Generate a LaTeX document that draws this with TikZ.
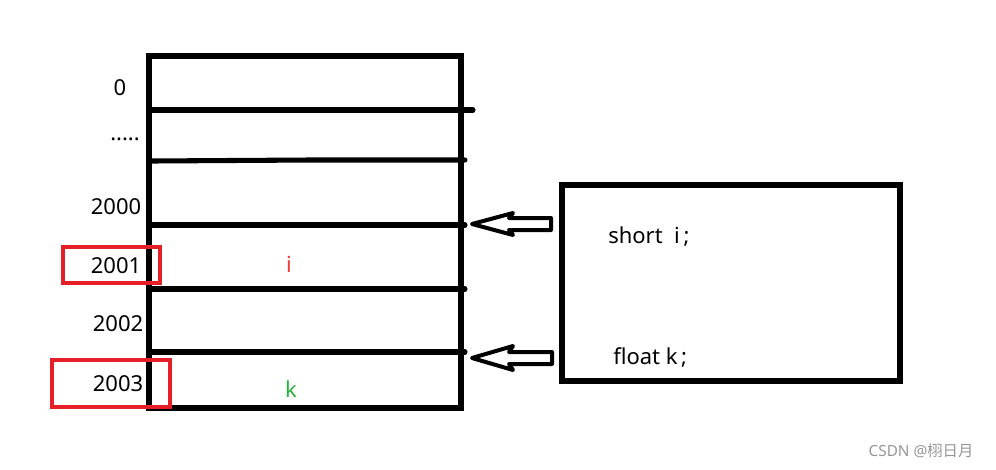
\documentclass[tikz,border=0pt]{standalone}
\usepackage{fontspec}
\setmainfont{Noto Sans}
\newfontfamily\cjk{Noto Sans CJK SC}
\definecolor{boxred}{RGB}{230,30,40}
\definecolor{txtred}{RGB}{240,60,60}
\definecolor{txtgreen}{RGB}{40,180,60}
\definecolor{wm}{RGB}{150,150,150}
\begin{document}
\begin{tikzpicture}[x=0.75pt,y=-0.75pt,
  thick line/.style={line width=3.8pt,line cap=round},
  lbl/.style={font=\fontsize{16.5}{19}\selectfont,inner sep=0pt},
  redbox/.style={draw=boxred,line width=2.3pt,minimum width=#1,minimum height=36*0.75pt},
  hollow/.style={draw=black,line width=3pt,line join=round,fill=white}]
\useasboundingbox (0,0) rectangle (996,469);
% memory column
\node[draw,line width=3.8pt,minimum width=312*0.75pt,minimum height=352*0.75pt,inner sep=0pt] (mem) at (305,232) {};
\coordinate (l1) at (152,110); \coordinate (r1) at (473,110);
\coordinate (l2) at (152,161); \coordinate (m2) at (310,160); \coordinate (r2) at (465,160);
\coordinate (l3) at (152,225); \coordinate (r3) at (465,225);
\coordinate (l4) at (152,289); \coordinate (r4) at (465,289);
\coordinate (l5) at (152,352); \coordinate (r5) at (465,352);
\draw[thick line] (l1) -- (r1);
\draw[thick line] (l2) -- (m2) -- (r2);
\draw[thick line] (l3) -- (r3);
\draw[thick line] (l4) -- (r4);
\draw[thick line] (l5) -- (r5);
% address labels
\node[lbl] (a0) at (120,88) {0};
\node[lbl] (adots) at (125,139) {.....};
\node[lbl] (a2000) at (116,207) {2000};
\node[lbl] (a2001) at (116,266) {2001};
\node[lbl] (a2002) at (118,324) {2002};
\node[lbl] (a2003) at (118,384) {2003};
\node[redbox=97*0.75pt] (rb1) at (111.5,265) {};
\node[redbox=118*0.75pt,minimum height=47*0.75pt] (rb2) at (111,383.5) {};
% variable letters
\node[lbl,text=txtred] (vi) at (289,264) {i};
\node[lbl,text=txtgreen] (vk) at (291,389) {k};
% code box
\node[draw,line width=3.8pt,minimum width=338*0.75pt,minimum height=196*0.75pt,inner sep=0pt] (code) at (731,283) {};
\node[lbl,anchor=west] (s1) at (608,237) {short\ \ i\,;};
\node[lbl,anchor=west] (s2) at (613,357) {float k\,;};
% hollow arrows
\draw[hollow] (472,224) -- (513,213) -- (509,218) -- (551,218) -- (551,230) -- (509,230) -- (513,235) -- cycle;
\draw[hollow] (472,358) -- (513,346) -- (509,352) -- (552,352) -- (552,364) -- (509,364) -- (513,370) -- cycle;
% watermark
\node[inner sep=0pt,text=wm,font=\fontsize{11.5}{13}\selectfont] (wmk) at (921,451) {CSDN @{\cjk 栩日月}};
\end{tikzpicture}
\end{document}
